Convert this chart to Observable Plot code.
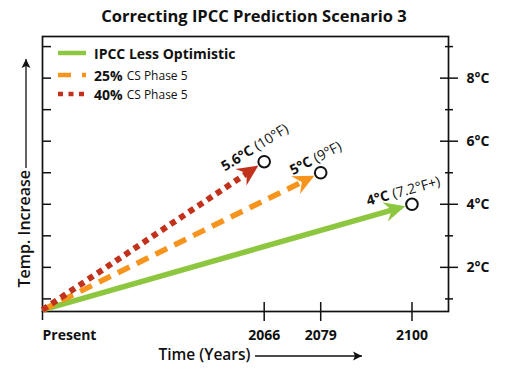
<!DOCTYPE html>
<html><head><meta charset="utf-8">
<script src="https://cdn.jsdelivr.net/npm/d3@7"></script>
<script src="https://cdn.jsdelivr.net/npm/@observablehq/plot@0.6"></script>
<style>
html,body{margin:0;padding:0;background:#fff;overflow:hidden;}
#wrap{position:relative;width:524px;height:375px;font-family:"Open Sans",sans-serif;color:#111;}
#title{height:32px;line-height:32px;font-size:16.5px;font-weight:700;text-align:center;padding-right:16px;box-sizing:border-box;width:524px;}
#chart svg{display:block;}
.lg{position:absolute;left:58px;height:20px;display:flex;align-items:center;white-space:nowrap;}
.lg svg{margin-right:8px;display:block;}
.lg b{font-size:14px;font-weight:700;}
.lg span{font-size:12px;font-weight:400;margin-left:4px;}
</style></head><body>
<div id="wrap">
  <div id="title">Correcting IPCC Prediction Scenario 3</div>
  <div id="chart"></div>
  <div id="legend"></div>
</div>
<script>
// ---- data ----
const seriesKeys = ["ipcc", "cs25", "cs40"];
const legendMain = ["IPCC Less Optimistic", "25%", "40%"];
const legendSub = ["", "CS Phase 5", "CS Phase 5"];
const presentYear = 2015;
const presentTemp = 0.65;
const endYears = [2100, 2079, 2066];
const endTemps = [4.0, 5.0, 5.35];
const labelMain = ["4°C", "5°C", "5.6°C"];
const labelSub = ["(7.2°F+)", "(9°F)", "(10°F)"];
const xTicks = [2015, 2066, 2079, 2100];
const xTickLabels = ["Present", "2066", "2079", "2100"];
const yTicksMajor = [2, 4, 6, 8];
const yTickLabels = ["2°C", "4°C", "6°C", "8°C"];
const yTicksMinor = [1, 3, 5, 7, 9];
const yTicksAll = [1, 2, 3, 4, 5, 6, 7, 8, 9];

// ---- styles ----
const colors = {ipcc: "#8dc63f", cs25: "#f7941d", cs40: "#c1311c"};
const dashes = {ipcc: null, cs25: "13,8", cs40: "6,5"};
const labelStyle = {
  ipcc: {rotate: -15.5, dx: -23, dy: -9},
  cs25: {rotate: -27.5, dx: -9.5, dy: -12},
  cs40: {rotate: -32, dx: -12, dy: -12.5}
};
const M = {top: 4, right: 76, bottom: 64, left: 42};
const W = 524, H = 343;

const rows = seriesKeys.flatMap((k, i) => [
  {key: k, year: presentYear, temp: presentTemp},
  {key: k, year: endYears[i], temp: endTemps[i]}
]);
const ends = seriesKeys.map((k, i) => ({key: k, year: endYears[i], temp: endTemps[i], main: labelMain[i], sub: labelSub[i]}));

const fmtX = d => xTickLabels[xTicks.indexOf(d)];
const fmtY = d => yTickLabels[yTicksMajor.indexOf(d)];

const chart = Plot.plot({
  width: W, height: H,
  marginTop: M.top, marginRight: M.right, marginBottom: M.bottom, marginLeft: M.left,
  style: {fontFamily: "'Open Sans', sans-serif", fontSize: "14px", fontWeight: 700, color: "#111", background: "white", overflow: "visible"},
  x: {domain: [2015, 2108.4], label: null},
  y: {domain: [0.6, 9.32], label: null},
  marks: [
    Plot.axisY(yTicksAll, {anchor: "left", tickSize: 9, dx: 9, tickFormat: () => "", label: null, strokeWidth: 1.5}),
    Plot.axisY(yTicksMinor, {anchor: "right", tickSize: 8, dx: -4, tickFormat: () => "", label: null, strokeWidth: 1.5}),
    Plot.axisY(yTicksMajor, {anchor: "right", tickSize: 18, dx: -9, tickPadding: 9, tickFormat: fmtY, label: null, strokeWidth: 1.5, fontSize: 14, fontWeight: 700}),
    Plot.axisX(xTicks.slice(1), {anchor: "bottom", tickSize: 19, dy: -9, tickPadding: 9, tickFormat: fmtX, label: null, strokeWidth: 1.5, fontSize: 14, fontWeight: 700}),
    Plot.axisX(xTicks.slice(0, 1), {anchor: "bottom", tickSize: 9, tickPadding: 10, textAnchor: "start", tickFormat: fmtX, label: null, strokeWidth: 1.5, fontSize: 14, fontWeight: 700}),
    Plot.frame({stroke: "#111", strokeWidth: 1.7}),
    ...seriesKeys.map(k => Plot.line(rows.filter(d => d.key === k), {
      x: "year", y: "temp", stroke: colors[k], strokeWidth: k === "cs40" ? 6 : 5.5,
      strokeDasharray: dashes[k] || undefined, strokeLinecap: "butt"
    })),
    Plot.dot(ends, {x: "year", y: "temp", r: 5.8, fill: "white", stroke: "#111", strokeWidth: 2}),
    ...seriesKeys.flatMap(k => {
      const pt = ends.filter(d => d.key === k);
      const st = labelStyle[k];
      return [
        Plot.text(pt, {x: "year", y: "temp", text: "main", textAnchor: "end", rotate: st.rotate, dx: st.dx, dy: st.dy, fontSize: 14, fontWeight: 700, fill: "#111"}),
        Plot.text(pt, {x: "year", y: "temp", text: d => "\u00a0" + d.sub, textAnchor: "start", rotate: st.rotate, dx: st.dx, dy: st.dy, fontSize: 14, fontWeight: 500, fill: "#111"})
      ];
    }),
    Plot.text(["Temp. Increase"], {frameAnchor: "bottom-left", text: d => d, rotate: -90, textAnchor: "start", dx: -13, dy: -24, fontSize: 16, fontWeight: 600, fill: "#111"}),
    Plot.text(["Time (Years)"], {frameAnchor: "bottom-left", text: d => d, textAnchor: "start", dx: 116, dy: 48.5, fontSize: 15.5, fontWeight: 600, fill: "#111"})
  ]
});
document.getElementById("chart").appendChild(chart);

// ---- arrowheads (markers) ----
const svg = d3.select(chart);
const defs = svg.insert("defs", ":first-child");
function head(id, color, tipX, len, hw, notch, mask) {
  const m = defs.append("marker").attr("id", id)
    .attr("markerUnits", "userSpaceOnUse")
    .attr("viewBox", "-40 -15 45 30").attr("markerWidth", 45).attr("markerHeight", 30)
    .attr("refX", 0).attr("refY", 0).attr("orient", "auto").style("overflow", "visible");
  if (mask) m.append("rect").attr("x", tipX - 7).attr("y", -3.5).attr("width", 7.5).attr("height", 7).attr("fill", "white");
  m.append("path").attr("d", `M${tipX},0L${tipX - len},${-hw}L${tipX - len + notch},0L${tipX - len},${hw}Z`).attr("fill", color);
}
seriesKeys.forEach(k => head("head-" + k, colors[k], -7, 21, 10, 7, true));
head("head-axis", "#111", 0, 9, 4.5, 2, false);
svg.selectAll('g[aria-label="line"]').each(function(_, i) {
  d3.select(this).selectAll("path").attr("marker-end", `url(#head-${seriesKeys[i]})`);
});

// axis-title arrows, placed relative to the frame
const deco = svg.append("g").attr("stroke", "#111").attr("stroke-width", 1.3).attr("fill", "none");
deco.append("line").attr("x1", M.left - 16).attr("x2", M.left - 16)
  .attr("y1", H - M.bottom - 143).attr("y2", M.top + 23).attr("marker-end", "url(#head-axis)");
deco.append("line").attr("x1", M.left + 213).attr("x2", M.left + 320)
  .attr("y1", H - M.bottom + 45).attr("y2", H - M.bottom + 45).attr("marker-end", "url(#head-axis)");

// ---- legend ----
const lgTops = [43, 65, 84];
const legend = document.getElementById("legend");
seriesKeys.forEach((k, i) => {
  const row = document.createElement("div");
  row.className = "lg";
  row.style.top = lgTops[i] + "px";
  const dash = dashes[k] ? (k === "cs25" ? "13,11" : "5,5.5") : "none";
  row.innerHTML = `<svg width="28" height="8"><line x1="0" x2="28" y1="4" y2="4" stroke="${colors[k]}" stroke-width="4.5" stroke-dasharray="${dash}"/></svg><b>${legendMain[i]}</b>` + (legendSub[i] ? `<span>${legendSub[i]}</span>` : "");
  legend.appendChild(row);
});
</script>
</body></html>
